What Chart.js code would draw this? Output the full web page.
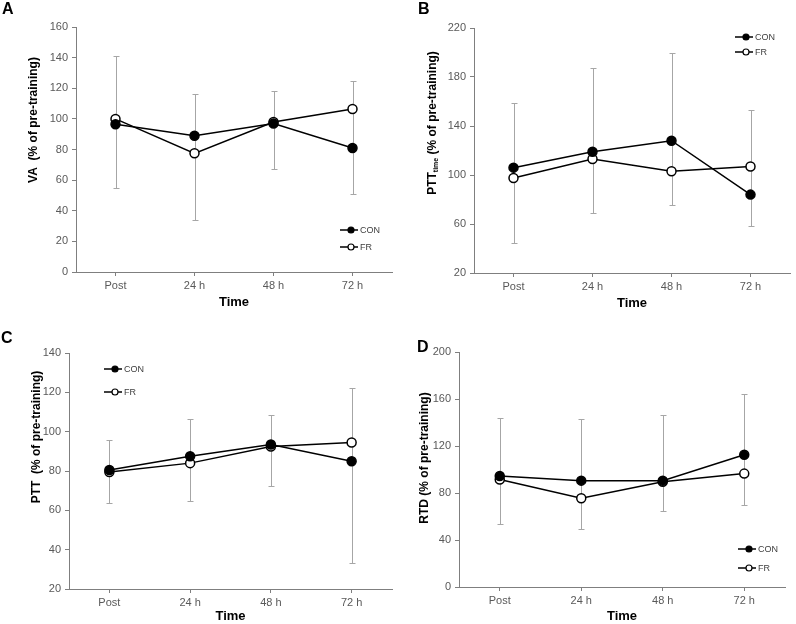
<!DOCTYPE html>
<html>
<head>
<meta charset="utf-8">
<script src="https://cdn.jsdelivr.net/npm/chart.js@4.4.0/dist/chart.umd.min.js"></script>
<style>
  body { margin: 0; background: #fff; }
  #wrap { position: relative; width: 796px; height: 624px; overflow: hidden; }
  canvas { position: absolute; }
  .tag { position: absolute; font: bold 16px 'Liberation Sans', Arial, sans-serif; color: #000; }
</style>
</head>
<body>
<div id="wrap">
  <canvas id="chartA" width="398" height="312" style="left:0;top:0"></canvas>
  <canvas id="chartB" width="398" height="312" style="left:398px;top:0"></canvas>
  <canvas id="chartC" width="398" height="312" style="left:0;top:312px"></canvas>
  <canvas id="chartD" width="398" height="312" style="left:398px;top:312px"></canvas>
  <div class="tag" style="left:2px;top:0px">A</div>
  <div class="tag" style="left:418px;top:0px">B</div>
  <div class="tag" style="left:1px;top:329px">C</div>
  <div class="tag" style="left:417px;top:338px">D</div>
</div>
<script>
const timeLabels = ["Post", "24 h", "48 h", "72 h"];

// A - VA
const vaCon = [96.5, 89, 97, 81];
const vaFr = [100, 77.5, 98, 106.5];
const vaErrHigh = [141, 116, 118, 125];
const vaErrLow = [55, 34, 67.5, 51];

// B - PTT time
const pttTimeCon = [106, 119, 128, 84];
const pttTimeFr = [97.5, 113, 103, 107];
const pttTimeErrHigh = [159, 187, 199.5, 153];
const pttTimeErrLow = [44.5, 69, 75.5, 58.5];

// C - PTT
const pttCon = [80.5, 87.5, 93.5, 85];
const pttFr = [79.5, 84, 92.5, 94.5];
const pttErrHigh = [96, 106.5, 108.5, 122];
const pttErrLow = [63.5, 64.5, 72.5, 33];

// D - RTD
const rtdCon = [94.5, 90.5, 90.5, 112.5];
const rtdFr = [91.5, 75.5, 89.5, 96.5];
const rtdErrHigh = [144, 143, 146, 164];
const rtdErrLow = [54, 49, 65, 69.5];

const FONT = "'Liberation Sans', Arial, sans-serif";
Chart.defaults.font.family = FONT;

// grey whiskers, drawn under the lines
const errorBars = {
  id: "errorBars",
  beforeDatasetsDraw(chart, args, opts) {
    const { ctx, scales: { x, y } } = chart;
    const high = opts.high, low = opts.low;
    ctx.save();
    ctx.strokeStyle = "#a6a6a6";
    ctx.lineWidth = 1;
    for (let i = 0; i < high.length; i++) {
      const px = Math.round(x.getPixelForValue(i)) + 0.5;
      const top = Math.round(y.getPixelForValue(high[i])) + 0.5;
      const bot = Math.round(y.getPixelForValue(low[i])) + 0.5;
      ctx.beginPath();
      ctx.moveTo(px, top); ctx.lineTo(px, bot);
      ctx.moveTo(px - 3, top); ctx.lineTo(px + 3, top);
      ctx.moveTo(px - 3, bot); ctx.lineTo(px + 3, bot);
      ctx.stroke();
    }
    ctx.restore();
  }
};

// small legend: line with marker, then label
const lineLegend = {
  id: "lineLegend",
  afterDatasetsDraw(chart, args, opts) {
    const { ctx, chartArea } = chart;
    chart.data.datasets.forEach((ds, i) => {
      const x = chartArea.left + opts.x;
      const y = chartArea.top + opts.y + i * opts.gap;
      ctx.save();
      ctx.strokeStyle = ds.borderColor;
      ctx.lineWidth = 1.5;
      ctx.beginPath();
      ctx.moveTo(x, y); ctx.lineTo(x + 18, y);
      ctx.stroke();
      ctx.beginPath();
      ctx.arc(x + 11, y, 3, 0, Math.PI * 2);
      ctx.fillStyle = ds.pointBackgroundColor;
      ctx.fill();
      ctx.lineWidth = 1.2;
      ctx.stroke();
      ctx.fillStyle = "#404040";
      ctx.font = "9px " + FONT;
      ctx.textBaseline = "middle";
      ctx.fillText(ds.label, x + 20, y + 0.5);
      ctx.restore();
    });
  }
};

// rotated y title, with optional subscript part
const yTitle = {
  id: "yTitle",
  afterDraw(chart, args, opts) {
    const { ctx } = chart;
    const parts = opts.parts;
    ctx.save();
    ctx.fillStyle = "#000";
    ctx.textBaseline = "middle";
    let total = 0;
    parts.forEach(p => {
      ctx.font = "bold " + p.size + "px " + FONT;
      total += ctx.measureText(p.text).width;
    });
    ctx.translate(opts.x, opts.y);
    ctx.rotate(-Math.PI / 2);
    let cx = -total / 2;
    parts.forEach(p => {
      ctx.font = "bold " + p.size + "px " + FONT;
      ctx.fillText(p.text, cx, p.dy || 0);
      cx += ctx.measureText(p.text).width;
    });
    ctx.restore();
  }
};

function buildPanel(id, cfg) {
  const ctx = document.getElementById(id).getContext("2d");
  return new Chart(ctx, {
    type: "line",
    data: {
      labels: timeLabels,
      datasets: [
        {
          label: "CON", data: cfg.con,
          borderColor: "#000", borderWidth: 1.5,
          pointRadius: 4.5, pointBorderWidth: 1.5,
          pointBackgroundColor: "#000", pointBorderColor: "#000"
        },
        {
          label: "FR", data: cfg.fr,
          borderColor: "#000", borderWidth: 1.5,
          pointRadius: 4.5, pointBorderWidth: 1.5,
          pointBackgroundColor: "#fff", pointBorderColor: "#000"
        }
      ]
    },
    options: {
      responsive: false,
      animation: false,
      devicePixelRatio: 1,
      layout: { padding: cfg.padding },
      plugins: {
        legend: { display: false },
        tooltip: { enabled: false },
        errorBars: { high: cfg.high, low: cfg.low },
        lineLegend: cfg.legend,
        yTitle: cfg.title
      },
      scales: {
        x: {
          offset: true,
          grid: { drawOnChartArea: false, offset: false, tickLength: 4, color: "#7f7f7f" },
          border: { color: "#7f7f7f" },
          ticks: { color: "#595959", font: { size: 11 }, padding: 3 },
          title: { display: true, text: "Time", color: "#000", font: { size: 13, weight: "bold" }, padding: 0 },
          afterFit(s) { s.height = cfg.xHeight; }
        },
        y: {
          min: cfg.yMin, max: cfg.yMax,
          grid: { drawOnChartArea: false, tickLength: 4, color: "#7f7f7f" },
          border: { color: "#7f7f7f" },
          ticks: { stepSize: cfg.yStep, color: "#595959", font: { size: 11 }, padding: 4 },
          afterFit(s) { s.width = 30; }
        }
      }
    },
    plugins: [errorBars, lineLegend, yTitle]
  });
}

buildPanel("chartA", {
  con: vaCon, fr: vaFr, high: vaErrHigh, low: vaErrLow,
  yMin: 0, yMax: 160, yStep: 20,
  padding: { left: 46, right: 2, top: 27, bottom: 2 }, xHeight: 38,
  legend: { x: 264, y: 203, gap: 17 },
  title: { x: 34, y: 120, parts: [{ text: "VA  (% of pre-training)", size: 12 }] }
});

buildPanel("chartB", {
  con: pttTimeCon, fr: pttTimeFr, high: pttTimeErrHigh, low: pttTimeErrLow,
  yMin: 20, yMax: 220, yStep: 40,
  padding: { left: 46, right: 2, top: 28, bottom: 1 }, xHeight: 38,
  legend: { x: 261, y: 9, gap: 15 },
  title: { x: 35, y: 123, parts: [
    { text: "PTT", size: 12 },
    { text: "time", size: 7, dy: 3 },
    { text: " (% of pre-training)", size: 12 }
  ] }
});

buildPanel("chartC", {
  con: pttCon, fr: pttFr, high: pttErrHigh, low: pttErrLow,
  yMin: 20, yMax: 140, yStep: 20,
  padding: { left: 39, right: 4, top: 41, bottom: 0 }, xHeight: 35,
  legend: { x: 35, y: 16, gap: 23 },
  title: { x: 37, y: 125, parts: [{ text: "PTT  (% of pre-training)", size: 12 }] }
});

buildPanel("chartD", {
  con: rtdCon, fr: rtdFr, high: rtdErrHigh, low: rtdErrLow,
  yMin: 0, yMax: 200, yStep: 40,
  padding: { left: 31, right: 11, top: 40, bottom: 0 }, xHeight: 37,
  legend: { x: 279, y: 197, gap: 19 },
  title: { x: 27, y: 146, parts: [{ text: "RTD (% of pre-training)", size: 12 }] }
});
</script>
</body>
</html>
